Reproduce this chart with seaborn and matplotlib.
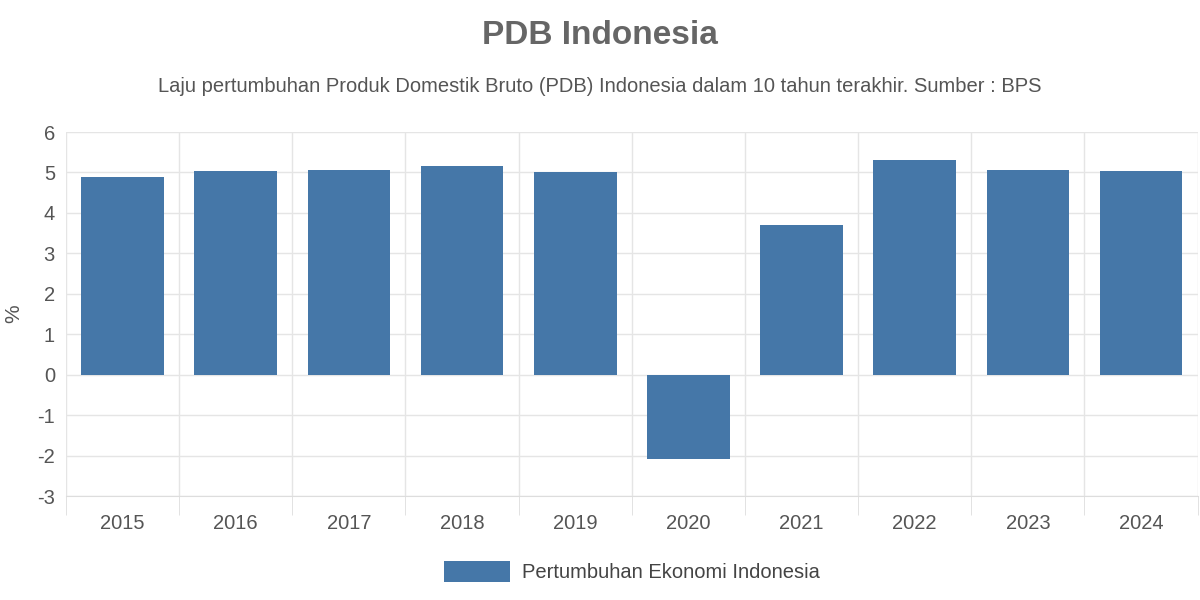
import matplotlib
matplotlib.use("Agg")
import matplotlib.pyplot as plt
import pandas as pd
import seaborn as sns

YEARS = ["2015", "2016", "2017", "2018", "2019", "2020", "2021", "2022", "2023", "2024"]
GROWTH = [4.88, 5.03, 5.07, 5.17, 5.02, -2.07, 3.70, 5.31, 5.05, 5.03]
SERIES_NAME = "Pertumbuhan Ekonomi Indonesia"

df = pd.DataFrame({"year": YEARS, "growth": GROWTH})

plt.rcParams["font.family"] = "Liberation Sans"
plt.rcParams["axes.unicode_minus"] = False
fig = plt.figure(figsize=(12, 6), dpi=100)
ax = fig.add_axes([0.055, 0.173, 0.943, 0.607])

sns.barplot(data=df, x="year", y="growth", color="#4577a8", saturation=1,
            width=0.73, ax=ax, label=SERIES_NAME, zorder=3)

ax.set_ylim(-3, 6)
ax.set_yticks(range(-3, 7))
ax.set_xlim(-0.5, len(YEARS) - 0.5)
ax.set_xticks([i - 0.5 for i in range(len(YEARS) + 1)], minor=True)
ax.grid(axis="y", color="#e5e5e5", lw=1, zorder=0)
ax.grid(axis="x", which="minor", color="#e5e5e5", lw=1, zorder=0)
ax.tick_params(axis="x", which="major", length=0, labelsize=14.5, colors="#555", pad=13)
ax.tick_params(axis="x", which="minor", length=14, color="#ddd")
ax.tick_params(axis="y", length=0, labelsize=14.5, colors="#555", pad=8)
for s in ["top", "right", "left"]:
    ax.spines[s].set_visible(False)
ax.spines["bottom"].set_color("#ddd")
ax.set_xlabel("")
ax.set_ylabel("%", fontsize=15, color="#555", labelpad=10)

fig.text(0.5, 0.94, "PDB Indonesia", ha="center", va="center",
         fontsize=24, fontweight="bold", color="#666")
fig.text(0.5, 0.855, "Laju pertumbuhan Produk Domestik Bruto (PDB) Indonesia dalam 10 tahun terakhir. Sumber : BPS",
         ha="center", va="center", fontsize=14.5, color="#555")

ax.legend(loc="upper center", bbox_to_anchor=(0.5, -0.128), frameon=False,
          fontsize=14.5, labelcolor="#444", handlelength=3.3, handleheight=1.2,
          handletextpad=0.6)

fig.savefig("out.png", dpi=100)
